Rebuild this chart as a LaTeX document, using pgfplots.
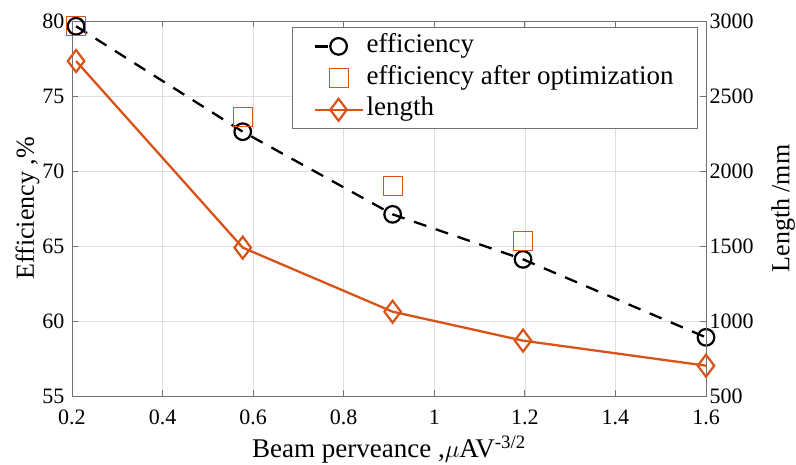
\documentclass[border=0pt]{standalone}
\usepackage{fontspec}
\setmainfont{Liberation Serif}
\usepackage{pgfplots}
\pgfplotsset{compat=1.18}
\definecolor{morange}{rgb}{0.85,0.325,0.098}
\definecolor{axgray}{rgb}{0.45,0.45,0.45}
\begin{document}
\begin{tikzpicture}
\path[use as bounding box] (-72pt,-69pt) rectangle (724pt,396pt);
\pgfplotsset{
  every axis/.append style={
    scale only axis, width=634pt, height=375pt,
    xmin=0.2, xmax=1.6,
    xtick={0.2,0.4,0.6,0.8,1,1.2,1.4,1.6},
    tick label style={font=\rmfamily\fontsize{22}{24}\selectfont, black},
    label style={font=\fontsize{26}{28}\selectfont},
    /pgf/number format/assume math mode=true,
    /pgf/number format/1000 sep={},
    tick align=inside,
    major tick length=6pt,
    axis line style={axgray, line width=0.8pt},
    every tick/.style={axgray, line width=0.8pt},
  }
}
\begin{axis}[
  at={(0,0)}, anchor=south west,
  ymin=55, ymax=80, ytick={55,60,65,70,75,80},
  grid=major, grid style={gray!25, line width=0.6pt},
  ytick pos=left, xticklabel pos=bottom,
  xtick pos=both,
  xticklabel style={yshift=-10pt},
  yticklabel style={xshift=-4pt},
  xlabel style={yshift=-5pt, font=\fontsize{27}{28}\selectfont},
  ylabel style={yshift=-4pt},
  xlabel={Beam perveance ,$\mu$AV\textsuperscript{-3/2}},
  ylabel={Efficiency ,\%},
]
\addplot[black, line width=2.3pt, dash pattern=on 13pt off 10pt, mark=o, mark size=8.3pt, mark options={solid, line width=2.2pt}]
  coordinates {(0.209,79.65) (0.577,72.62) (0.908,67.11) (1.196,64.11) (1.6,58.91)};
\addplot[only marks, morange, mark=square, mark size=9.5pt, mark options={line width=1pt}]
  coordinates {(0.209,79.68) (0.577,73.62) (0.908,69.0) (1.196,65.35)};
\end{axis}
\begin{axis}[
  at={(0,0)}, anchor=south west,
  ymin=500, ymax=3000, ytick={500,1000,1500,2000,2500,3000},
  axis y line*=right, axis x line=none,
  ylabel={Length /mm},
  ylabel style={yshift=-11pt},
  legend style={
    at={(1,1)}, anchor=north east, xshift=-8pt, yshift=-6pt,
    draw=axgray, line width=0.8pt, fill=white,
    font=\fontsize{27}{28}\selectfont,
    inner xsep=21pt, inner ysep=6pt, row sep=5.7pt,
    nodes={inner xsep=3pt, inner ysep=0pt, text height=19pt, text depth=7pt},
    legend cell align=left,
  },
  legend image code/.code={\draw[mark repeat=2, mark phase=2] plot coordinates {(0pt,0pt) (24pt,0pt) (48pt,0pt)};},
]
\addlegendimage{black, line width=2.3pt, dash pattern=on 13pt off 40pt, mark=o, mark size=8.3pt, mark options={solid, line width=2.2pt}}
\addlegendentry{efficiency}
\addlegendimage{only marks, morange, mark=square, mark size=9.5pt, mark options={line width=1pt}}
\addlegendentry{efficiency after optimization}
\addplot[morange, line width=2.3pt, mark=diamond, mark size=11pt, mark options={solid, line width=2.2pt}]
  coordinates {(0.209,2733) (0.577,1489) (0.908,1062) (1.196,869) (1.6,702)};
\addlegendentry{length}
\end{axis}
\end{tikzpicture}
\end{document}
